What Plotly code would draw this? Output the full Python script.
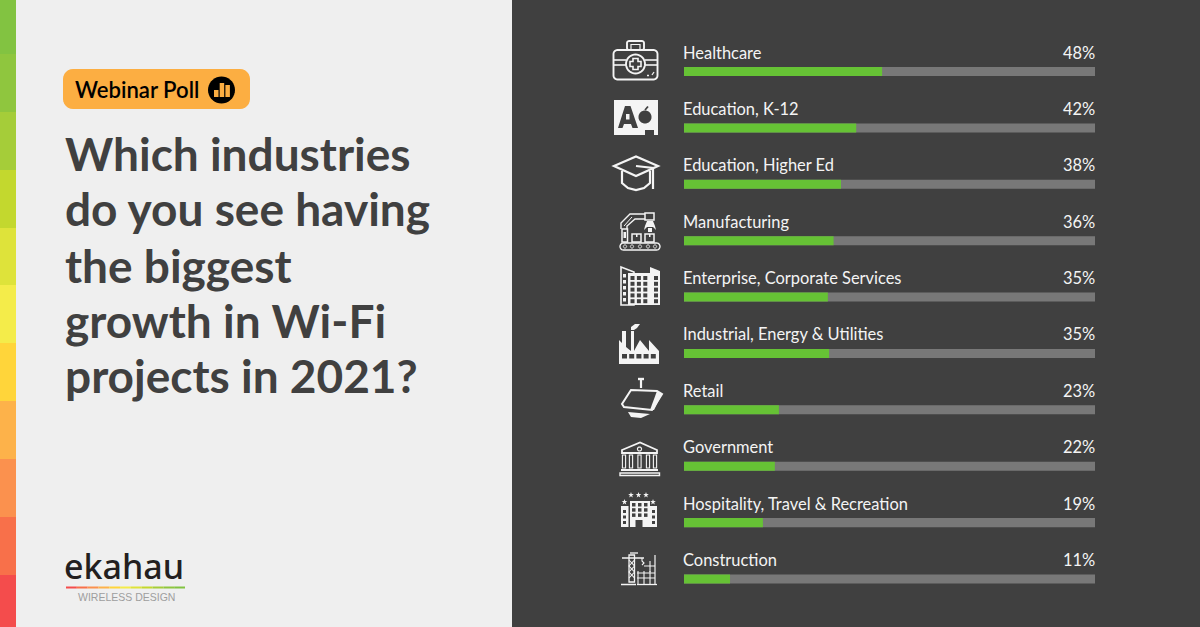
import math
import plotly.graph_objects as go

W, H = 1200, 627

# ---- data -------------------------------------------------------------
categories = ["Healthcare", "Education, K-12", "Education, Higher Ed", "Manufacturing",
              "Enterprise, Corporate Services", "Industrial, Energy & Utilities",
              "Retail", "Government", "Hospitality, Travel & Recreation", "Construction"]
values = [48.2, 41.9, 38.2, 36.4, 35.0, 35.3, 23.1, 22.1, 19.2, 11.2]
value_labels = ["48%", "42%", "38%", "36%", "35%", "35%", "23%", "22%", "19%", "11%"]
track_values = [100] * 10
title_lines = ["Which industries", "do you see having", "the biggest", "growth in Wi-Fi", "projects in 2021?"]
title_y = [153, 209, 265, 320, 376]
strip_colors = ["#82C341", "#8FC63E", "#A5CD39", "#C3D82E", "#DEE33A", "#F4EC4A",
                "#FFD53A", "#FDB24A", "#FB914E", "#F8704A", "#F44C4C"]
strip_edges = [0, 54, 112, 170, 228, 285, 343, 401, 459, 517, 575, 627]

DARK = "#404040"
LIGHT = "#EFEFEF"
WHITE = "#F4F4F4"
shapes = []


def px(x):
    return x / W


def py(y):
    return 1 - y / H


def poly(points, fill=None, line=None, width=1.6, close=True, layer="above"):
    d = "M" + " L".join(f"{px(x):.5f},{py(y):.5f}" for x, y in points) + (" Z" if close else "")
    shapes.append(dict(type="path", path=d, xref="paper", yref="paper", layer=layer,
                       fillcolor=fill if fill else "rgba(0,0,0,0)",
                       line=dict(color=line if line else "rgba(0,0,0,0)", width=width if line else 0)))


def rect(x0, y0, x1, y1, fill=None, line=None, width=1.6, layer="above"):
    poly([(x0, y0), (x1, y0), (x1, y1), (x0, y1)], fill, line, width, layer=layer)


def circle(cx, cy, r, fill=None, line=None, width=1.6):
    poly([(cx + r * math.cos(a * math.pi / 18), cy + r * math.sin(a * math.pi / 18)) for a in range(36)],
         fill, line, width)


def rrect(x0, y0, x1, y1, r, fill=None, line=None, width=1.6):
    pts = []
    for cx, cy, start in [(x1 - r, y0 + r, -90), (x1 - r, y1 - r, 0), (x0 + r, y1 - r, 90), (x0 + r, y0 + r, 180)]:
        for k in range(7):
            a = math.radians(start + k * 15)
            pts.append((cx + r * math.cos(a), cy + r * math.sin(a)))
    poly(pts, fill, line, width)


def seg(points, width=1.6, color=WHITE):
    poly(points, None, color, width, close=False)


# ---- panels ------------------------------------------------------------
rect(512, 0, 1200, 627, fill=DARK, layer="below")
for i, c in enumerate(strip_colors):
    rect(0, strip_edges[i], 16, strip_edges[i + 1], fill=c)

# pill
rrect(63, 69, 250, 109, 10, fill="#FCAE42")
circle(221.5, 90, 13.5, fill="#000000")
rect(214, 90, 218.5, 97, fill="#FCAE42")
rect(219.7, 83, 224.2, 97, fill="#FCAE42")
rect(225.4, 85, 229.9, 97, fill="#FCAE42")

# logo rule
logo_cols = strip_colors[::-1]
for i, c in enumerate(logo_cols):
    x0 = 66 + i * 119 / 11
    rect(x0, 586.5, x0 + 119 / 11, 588.5, fill=c)

# ---- icons (decorative pictograms) --------------------------------------
# 1 medkit
rrect(613.5, 50, 657.5, 79.5, 4, line=WHITE, width=1.9)
rrect(627, 41, 644, 50, 2, line=WHITE, width=1.9)
rect(631, 44.5, 640, 50, line=WHITE, width=1.2)
seg([(614, 60), (626, 60)]); seg([(645, 60), (657, 60)])
seg([(614, 65), (626, 65)]); seg([(645, 65), (657, 65)])
circle(635.5, 64, 9.5, line=WHITE, width=1.9)
poly([(633, 58.5), (638, 58.5), (638, 61.5), (641, 61.5), (641, 66.5), (638, 66.5), (638, 69.5),
      (633, 69.5), (633, 66.5), (630, 66.5), (630, 61.5), (633, 61.5)], line=WHITE, width=1.6)
seg([(647, 75.5), (649, 75.5)], 1.3); seg([(652, 75), (654, 72)], 1.3)

# 2 A + apple
poly([(614, 100), (658, 100), (658, 135), (654, 135), (654, 130), (645, 130), (645, 135), (614, 135)], fill=WHITE)
poly([(618, 128), (625, 106), (630.5, 106), (638, 128), (632.5, 128), (631, 124), (624, 124), (622.5, 128)], fill=DARK)
rect(626, 114, 629.5, 119.5, fill=WHITE)
circle(645, 117, 6.5, fill=DARK)
seg([(645, 110), (648, 106.5)], 1.8, DARK)

# 3 graduation cap
poly([(614, 166), (636, 156.5), (658, 166), (636, 176)], line=WHITE, width=2.2)
seg([(622, 171), (622, 183), (628, 188), (636, 190), (644, 188), (650, 183), (650, 171)], 2.2)
seg([(636, 166), (653, 168), (653, 189)], 2.2)

# 4 manufacturing
rrect(620, 243, 660, 250, 3.5, line=WHITE, width=1.4)
for cx in [625, 632, 640, 648, 655]:
    circle(cx, 246.5, 1.6, line=WHITE, width=1)
rect(632, 234, 641, 242, line=WHITE, width=1.5)
rect(645, 234, 654, 242, line=WHITE, width=1.5)
rect(636, 234, 637.5, 237, fill=WHITE)
rect(649, 234, 650.5, 237, fill=WHITE)
rect(622, 229, 627.5, 242, line=WHITE, width=1.5)
rect(623.5, 232, 626, 238, fill=WHITE)
seg([(621, 229), (621, 223), (630, 214), (645, 214)], 1.4)
seg([(627, 229), (627, 226), (635, 219), (645, 219)], 1.4)
seg([(624, 226), (632, 217)], 1.0)
rect(645, 213, 654, 220, line=WHITE, width=1.5)
poly([(647, 221), (653, 221), (655, 226), (656, 230), (653, 227), (647, 227), (644, 230), (645, 226)], fill=WHITE)
rect(648, 228, 652, 232, fill=WHITE)

# 5 building
poly([(621, 267), (634, 272), (634, 305), (621, 305)], line=WHITE, width=1.6)
poly([(628, 273), (650, 273), (650, 267), (660, 271), (660, 305), (628, 305)], fill=WHITE)
for r in range(5):
    for c in range(3):
        rect(630.5 + c * 6.4, 276 + r * 5.8, 634.5 + c * 6.4, 280 + r * 5.8, fill=DARK)
for r in range(5):
    rect(654, 276 + r * 5.8, 658, 280 + r * 5.8, fill=DARK)
    rect(623, 274 + r * 6, 626, 277.5 + r * 6, fill=WHITE)

# 6 factory
poly([(619, 364), (619, 340), (622, 343), (622, 331), (626, 331), (626, 347), (631, 351), (631, 331), (634, 331),
      (634, 351), (640, 340), (649, 351), (649, 340), (659, 351), (659, 364)], fill=WHITE)
for k in range(5):
    rect(622 + k * 7.2, 354, 627 + k * 7.2, 358.5, fill=DARK)
poly([(631, 330), (631, 327), (635, 324), (640, 324), (637, 328), (634, 330)], fill=WHITE)

# 7 retail POS
seg([(638, 379), (644, 379)], 2.4)
seg([(641, 379), (641, 388)], 2.2)
poly([(631, 390), (657, 391), (662, 394), (652, 410), (624, 407), (622, 404)], line=WHITE, width=2)
poly([(657, 391), (662, 394), (654, 410), (650, 410)], fill=WHITE)
poly([(628, 412), (650, 414), (641, 418), (631, 417)], fill=WHITE)

# 8 government
poly([(622, 453), (622, 450), (640, 442.5), (657, 450), (657, 453)], line=WHITE, width=1.8)
circle(639.5, 449, 2, line=WHITE, width=1.2)
for x in [624, 631, 639.5, 648, 655]:
    rect(x - 1.6, 455, x + 1.6, 468, line=WHITE, width=1.1)
rect(621, 469, 658, 471, fill=WHITE)
rect(620, 473, 659.5, 475.5, line=WHITE, width=1.4)

# 9 hospitality
rect(630, 501, 650, 527, fill=WHITE)
rect(621, 506, 628.5, 527, fill=WHITE)
rect(650, 506, 657, 527, fill=WHITE)
for r in range(3):
    for c in range(3):
        rect(632 + c * 6, 503 + r * 5.2, 635.5 + c * 6, 506.5 + r * 5.2, fill=DARK)
for r in range(3):
    rect(623, 510 + r * 5.5, 626, 513 + r * 5.5, fill=DARK)
    rect(652, 510 + r * 5.5, 655, 513 + r * 5.5, fill=DARK)
rect(635.5, 520, 642.5, 527, fill=DARK)
for x, y in [(631, 495), (638.5, 495), (646, 495), (624.5, 502), (653, 502)]:
    poly([(x + 3 * math.cos(math.radians(a)) * (1 if k % 2 == 0 else .4),
           y + 3 * math.sin(math.radians(a)) * (1 if k % 2 == 0 else .4))
          for k, a in enumerate(range(-90, 270, 36))], fill=WHITE)

# 10 construction
seg([(622, 558), (644, 558)], 1.5)
seg([(630, 553), (638, 553)], 1.3)
rect(629, 555, 634.5, 582, line=WHITE, width=1.3)
seg([(629, 560), (634.5, 566), (629, 572), (634.5, 578)], 1.1)
seg([(634.5, 560), (629, 566), (634.5, 572), (629, 578)], 1.1)
seg([(642, 558), (642, 561), (644, 563), (642, 565)], 1.1)
seg([(621, 584.5), (636, 584.5)], 1.5)
seg([(637, 584.5), (657, 584.5)], 1.3)
for x in [638, 644, 650]:
    seg([(x, 571), (x, 584)], 1.1)
seg([(655, 555), (655, 584)], 1.2)
seg([(650, 561), (650, 572)], 1.1)
for y in [573, 578]:
    seg([(637, y), (655, y)], 1.0)
seg([(644, 566), (655, 566)], 1.0)

# ---- traces -------------------------------------------------------------
fig = go.Figure()
fig.add_bar(y=categories, x=track_values, orientation="h", marker=dict(color="#787878", line_width=0),
            width=0.16, hoverinfo="skip")
fig.add_bar(y=categories, x=values, orientation="h", marker=dict(color="#66C235", line_width=0),
            width=0.16, hoverinfo="skip")

# ---- text ---------------------------------------------------------------
ann = []
for c, lab in zip(categories, value_labels):
    ann.append(dict(text=c, xref="paper", yref="y", x=682 / W, y=c, xanchor="left", yanchor="middle",
                    yshift=19, showarrow=False, borderpad=0,
                    font=dict(family="Lato", size=16.45, color=WHITE)))
    ann.append(dict(text=lab, xref="x", yref="y", x=100, y=c, xanchor="right", yanchor="middle",
                    xshift=1, yshift=19, showarrow=False, borderpad=0,
                    font=dict(family="Lato", size=16.45, color=WHITE)))
for t, y in zip(title_lines, title_y):
    ann.append(dict(text=t, xref="paper", yref="paper", x=63.5 / W, y=py(y), xanchor="left", yanchor="middle",
                    showarrow=False, borderpad=0,
                    font=dict(family="Lato", size=46, weight=700, color=DARK)))
ann.append(dict(text="Webinar Poll", xref="paper", yref="paper", x=74 / W, y=py(90), xanchor="left", yanchor="middle",
                showarrow=False, borderpad=0, font=dict(family="Lato", size=22.1, weight=600, color="#000000")))
ann.append(dict(text="ekahau", xref="paper", yref="paper", x=63 / W, y=py(566), xanchor="left", yanchor="middle",
                showarrow=False, borderpad=0, font=dict(family="Noto Sans", size=34, weight=500, color="#231F20")))
ann.append(dict(text="WIRELESS DESIGN", xref="paper", yref="paper", x=126 / W, y=py(597), xanchor="center",
                yanchor="middle", showarrow=False, borderpad=0,
                font=dict(family="Liberation Sans", size=10.5, color="#9E9E9E")))

fig.update_layout(
    width=W, height=H, margin=dict(l=0, r=0, t=0, b=0, pad=0),
    paper_bgcolor=LIGHT, plot_bgcolor="rgba(0,0,0,0)",
    barmode="overlay", showlegend=False, hovermode=False,
    shapes=shapes, annotations=ann,
    xaxis=dict(domain=[684 / W, 1095 / W], range=[0, 100], visible=False, fixedrange=True),
    yaxis=dict(domain=[0, 1], type="category", categoryorder="array", categoryarray=categories,
               range=[9.851, -1.268], visible=False, fixedrange=True),
)

fig.write_html("out.html", config=dict(displayModeBar=False),
               post_script="document.body.style.margin='0';document.body.style.overflow='hidden';")
